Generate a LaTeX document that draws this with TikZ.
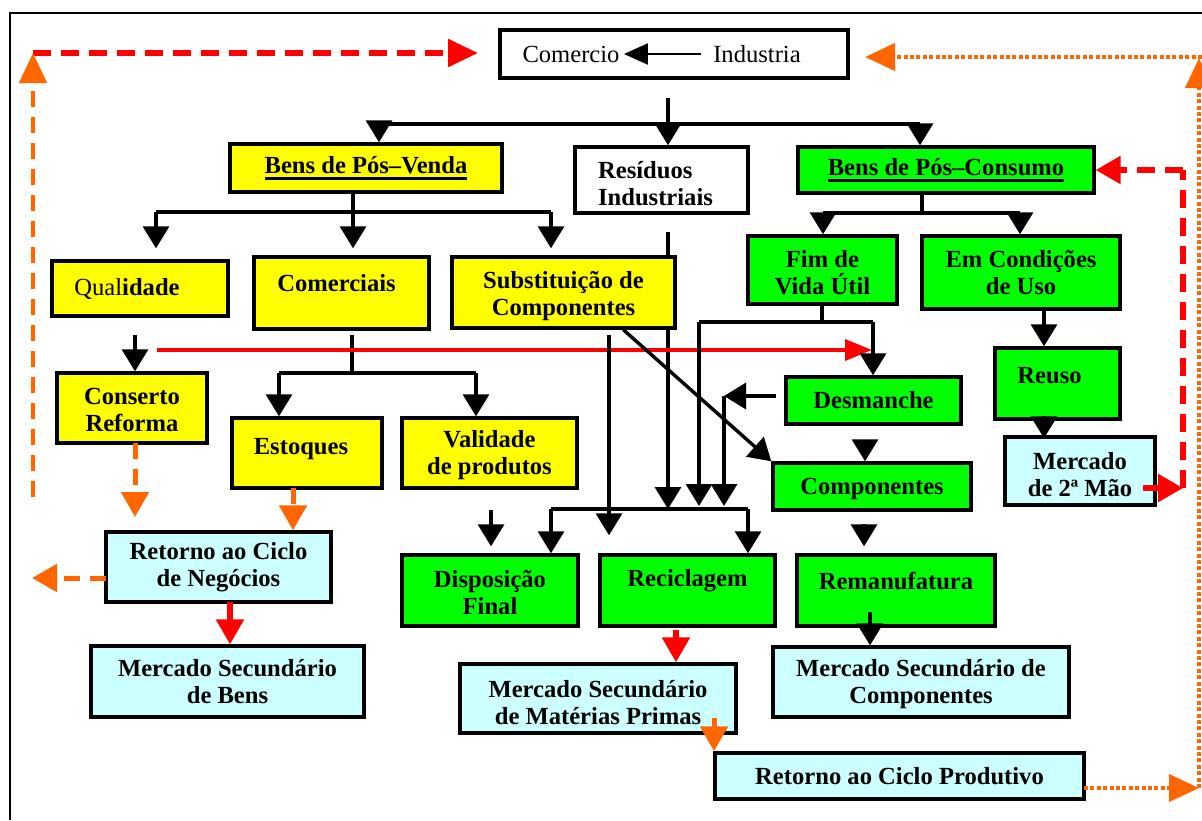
\documentclass[tikz,border=0pt]{standalone}
\usepackage{fontspec}
\setmainfont{Liberation Serif}
\usetikzlibrary{arrows.meta,fit,calc,backgrounds}
\definecolor{myyel}{RGB}{255,255,0}
\definecolor{mygrn}{RGB}{0,255,0}
\definecolor{mycyan}{RGB}{204,255,255}
\definecolor{myorg}{RGB}{255,102,0}
\definecolor{myred}{RGB}{255,0,0}
\newcommand\thul[1]{\leavevmode\setbox0=\hbox{#1}\rlap{\vrule height -2pt depth 3.3pt width \wd0}\box0}
\tikzset{
  box/.style={draw, line width=1.7pt, inner sep=0pt},
  yel/.style={box, fill=myyel},
  grn/.style={box, fill=mygrn},
  cyn/.style={box, fill=mycyan},
  wht/.style={box, fill=white},
  btxt/.style={inner sep=0pt, align=center, font=\fontsize{12.3}{13.5}\selectfont\bfseries},
  plain/.style={font=\fontsize{12.3}{13.5}\selectfont, inner sep=0pt},
  ln/.style={line width=1.7pt, black},
  arr/.style={ln, -{Triangle[length=11pt,width=13pt]}},
  redarr/.style={line width=1.7pt, myred, -{Triangle[length=13.5pt,width=10.5pt]}},
  rdash/.style={line width=2.8pt, myred, dash pattern=on 9pt off 5pt},
  odash/.style={line width=2.5pt, myorg, dash pattern=on 8pt off 5pt},
  odot/.style={line width=2pt, myorg, dash pattern=on 2pt off 1.2pt},
  ctip/.style={-{Triangle[length=12.5pt,width=13.5pt]}},
  btip/.style={-{Triangle[length=15pt,width=13.5pt]}}
}
\begin{document}
\begin{tikzpicture}[x=0.5pt,y=-0.5pt]
\useasboundingbox (0,0) rectangle (1202,820);
% named junctions and free ends
\coordinate (ts) at (668,98);
\coordinate (tc) at (668,124);
\coordinate (tl) at (379,124);
\coordinate (tr) at (920,124);
\coordinate (pj) at (353,212);
\coordinate (pl) at (156,212);
\coordinate (pr) at (551,212);
\coordinate (cj) at (922,213);
\coordinate (cl) at (823,213);
\coordinate (cr) at (1020,213);
\coordinate (rx) at (668,232);
\coordinate (hl) at (551,509);
\coordinate (hr) at (748,509);
\coordinate (s1) at (609,335);
\coordinate (fj) at (822,322);
\coordinate (fl) at (699,322);
\coordinate (fr) at (873,322);
\coordinate (ds) at (776,396);
\coordinate (dc) at (724,396);
\coordinate (vx) at (491,510);
\coordinate (d1) at (865,441);
\coordinate (c1) at (864,524);
\coordinate (r1) at (870,612);
\coordinate (e1) at (1044,309);
\coordinate (e2) at (1044,416);
\coordinate (q1) at (135,335);
\coordinate (cs) at (352,335);
\coordinate (cj2) at (352,373);
\coordinate (cl2) at (279,373);
\coordinate (cr2) at (476,373);
\coordinate (rl) at (157,350);
\coordinate (rr) at (872,350);
\coordinate (o1s) at (135,443);
\coordinate (o1) at (135,517);
\coordinate (o2) at (293,488);
\coordinate (o3s) at (106,578);
\coordinate (o3) at (32,578);
\coordinate (rb) at (230,602);
\coordinate (rm) at (676,630);
\coordinate (om) at (714,718);
\coordinate (lc) at (33,53);
\coordinate (la) at (478,53);
\coordinate (lb) at (33,497);
\coordinate (pb) at (1084,788);
\coordinate (br) at (1199,788);
\coordinate (tr2) at (1199,58);
\coordinate (te) at (1202,57);
\coordinate (ta) at (865,57);
\coordinate (mr) at (1143,488);
\coordinate (rb2) at (1183,488);
\coordinate (rt2) at (1183,170);

\begin{scope}[on background layer]
\fill[white] (0,0) rectangle (1202,820);
\draw[arr] (rx) -- (rx |- hl);
\end{scope}

% frame
\draw[line width=1.4pt] (1202,13) -- (10,13) -- (10,820);

% boxes
\node[wht, fit={(500,30)(848,78)}] (cbox) {};
\node[plain] (ctext) at (571,54) {Comercio};
\node[plain] (itext) at (757,54) {Industria};
\node[yel, fit={(230,144)(502,192)}] (bpv) {};
\node[btxt] (bpv-t) at (bpv.center) {\thul{Bens de Pós–Venda}};
\node[wht, fit={(575,147)(748,213)}] (res) {};
\node[btxt, align=left] (res-t) at ([xshift=-3pt,yshift=-2pt]res.center) {Resíduos\\Industriais};
\node[grn, fit={(798,147)(1094,193)}] (bpc) {};
\node[btxt] (bpc-t) at (bpc.center) {\thul{Bens de Pós–Consumo}};
\node[yel, fit={(52,261)(228,316)}] (qual) {};
\node[btxt] (qual-t) at ([xshift=-6.5pt]qual.center) {{\mdseries Qual}idade};
\node[yel, fit={(254,257)(429,329)}] (comc) {};
\node[btxt] (comc-t) at ([xshift=-2.5pt,yshift=5pt]comc.center) {Comerciais};
\node[yel, fit={(452,257)(675,328)}] (sub) {};
\node[btxt] (sub-t) at ([yshift=-2pt]sub.center) {Substituição de\\Componentes};
\node[grn, fit={(748,236)(897,304)}] (fim) {};
\node[btxt] (fim-t) at ([yshift=-1.5pt]fim.center) {Fim de\\Vida Útil};
\node[grn, fit={(922,236)(1120,309)}] (emc) {};
\node[btxt] (emc-t) at (emc.center) {Em Condições\\de Uso};
\node[yel, fit={(57,373)(207,443)}] (cons) {};
\node[btxt] (cons-t) at ([yshift=-1pt]cons.center) {Conserto\\Reforma};
\node[yel, fit={(232,418)(382,488)}] (est) {};
\node[btxt] (est-t) at ([xshift=-3pt,yshift=2pt]est.center) {Estoques};
\node[yel, fit={(402,418)(577,488)}] (val) {};
\node[btxt] (val-t) at ([yshift=-1pt]val.center) {Validade\\de produtos};
\node[grn, fit={(786,377)(961,424)}] (desm) {};
\node[btxt] (desm-t) at (desm.center) {Desmanche};
\node[grn, fit={(995,348)(1120,419)}] (reuso) {};
\node[btxt] (reuso-t) at ([xshift=-4pt,yshift=4pt]reuso.center) {Reuso};
\node[cyn, fit={(1005,437)(1155,505)}] (m2) {};
\node[btxt] (m2-t) at ([yshift=-2pt]m2.center) {Mercado\\de 2ª Mão};
\node[grn, fit={(773,463)(971,510)}] (compo) {};
\node[btxt] (compo-t) at ([yshift=-1pt]compo.center) {Componentes};
\node[cyn, fit={(106,532)(331,602)}] (rcn) {};
\node[btxt] (rcn-t) at (rcn.center) {Retorno ao Ciclo\\de Negócios};
\node[cyn, fit={(91,646)(364,717)}] (msb) {};
\node[btxt] (msb-t) at (msb.center) {Mercado Secundário\\de Bens};
\node[grn, fit={(402,555)(578,626)}] (disp) {};
\node[btxt] (disp-t) at ([yshift=-1pt]disp.center) {Disposição\\Final};
\node[grn, fit={(600,555)(775,626)}] (recic) {};
\node[btxt] (recic-t) at ([yshift=5pt]recic.center) {Reciclagem};
\node[grn, fit={(797,555)(995,626)}] (reman) {};
\node[btxt] (reman-t) at ([yshift=5pt]reman.center) {Remanufatura};
\node[cyn, fit={(460,664)(736,733)}] (msmp) {};
\node[btxt] (msmp-t) at ([yshift=-2pt]msmp.center) {Mercado Secundário\\de Matérias Primas};
\node[cyn, fit={(773,647)(1069,717)}] (msc) {};
\node[btxt] (msc-t) at ([yshift=-1pt]msc.center) {Mercado Secundário de\\Componentes};
\node[cyn, fit={(715,753)(1084,799)}] (rcp) {};
\node[btxt] (rcp-t) at (rcp.center) {Retorno ao Ciclo Produtivo};

% Comercio <- Industria
\draw[line width=1pt, -{Triangle[length=12pt,width=10.5pt]}] ([xshift=-6pt]itext.west) -- ([xshift=2pt]ctext.east);

% top tree
\draw[ln] (ts) -- (tc);
\draw[ln] (tl) -- (tr);
\draw[arr] (tl) -- (tl |- bpv.north);
\draw[arr] (tc) -- (tc |- res.north);
\draw[arr] (tr) -- (tr |- bpc.north);

% pos-venda tree
\draw[ln] (bpv.south -| pj) -- (pj);
\draw[ln] (pl) -- (pr);
\draw[arr, shorten >=5.5pt] (pl) -- (pl |- qual.north);
\draw[arr, shorten >=3.5pt] (pj) -- (pj |- comc.north);
\draw[arr, shorten >=3.5pt] (pr) -- (pr |- sub.north);

% pos-consumo tree
\draw[ln] (bpc.south -| cj) -- (cj);
\draw[ln] (cl) -- (cr);
\draw[arr] (cl) -- (cl |- fim.north);
\draw[arr] (cr) -- (cr |- emc.north);

% qualidade / comerciais
\draw[arr] (q1) -- (q1 |- cons.north);
\draw[ln] (cs) -- (cj2);
\draw[ln] (cl2) -- (cr2);
\draw[arr] (cl2) -- (cl2 |- est.north);
\draw[arr] (cr2) -- (cr2 |- val.north);

% red line
\draw[redarr] (rl) -- (rr);

% substituicao
\draw[arr, shorten >=9pt] (s1) -- (s1 |- recic.north);
\draw[arr] ($(sub.south west)+(173,0)$) -- (compo.north west);

% fim de vida
\draw[ln] (fim.south -| fj) -- (fj);
\draw[ln] (fl) -- (fr);
\draw[arr] (fr) -- (fr |- desm.north);
\draw[arr, shorten >=1.5pt] (fl) -- (fl |- hl);

% desmanche
\draw[arr] (ds) -- (dc);
\draw[arr, shorten >=1.5pt] (dc) -- (dc |- hl);
\draw[arr] (d1) -- (d1 |- compo.north);

% lower junction
\draw[ln] (hl) -- (hr);
\draw[arr] (hl) -- (hl |- disp.north);
\draw[arr] (hr) -- (hr |- recic.north);
\draw[arr, shorten >=3.5pt] (vx) -- (vx |- disp.north);

% componentes / remanufatura
\draw[arr, shorten >=3.5pt] (c1) -- (c1 |- reman.north);
\draw[arr] (r1) -- (r1 |- msc.north);

% uso
\draw[arr] (e1) -- (e1 |- reuso.north);
\draw[arr, shorten >=-1.5pt] (e2) -- (e2 |- m2.north);

% coloured returns
\draw[odash, ctip] (o1s) -- (o1);
\draw[odash, ctip] (o2) -- (o2 |- rcn.north);
\draw[odash, ctip] (o3s) -- (o3);
\draw[rdash, ctip] (rb) -- (rb |- msb.north);
\draw[rdash, ctip] (rm) -- (rm |- msmp.north);
\draw[odash, ctip] (om) -- (om |- rcp.north);

% big loops
\draw[rdash, btip] (lc) -- (la);
\draw[odash, line width=2.3pt, btip] (lb) -- (lc);
\draw[odot, btip] (pb) -- (br);
\draw[odot, btip] (br) -- (tr2);
\draw[odot, btip] (te) -- (ta);
\draw[line width=2.8pt, myred, ctip] (mr) -- (rb2);
\draw[rdash] (rb2) -- (rt2);
\draw[rdash, ctip] (rt2) -- (rt2 -| bpc.east);
\end{tikzpicture}
\end{document}
